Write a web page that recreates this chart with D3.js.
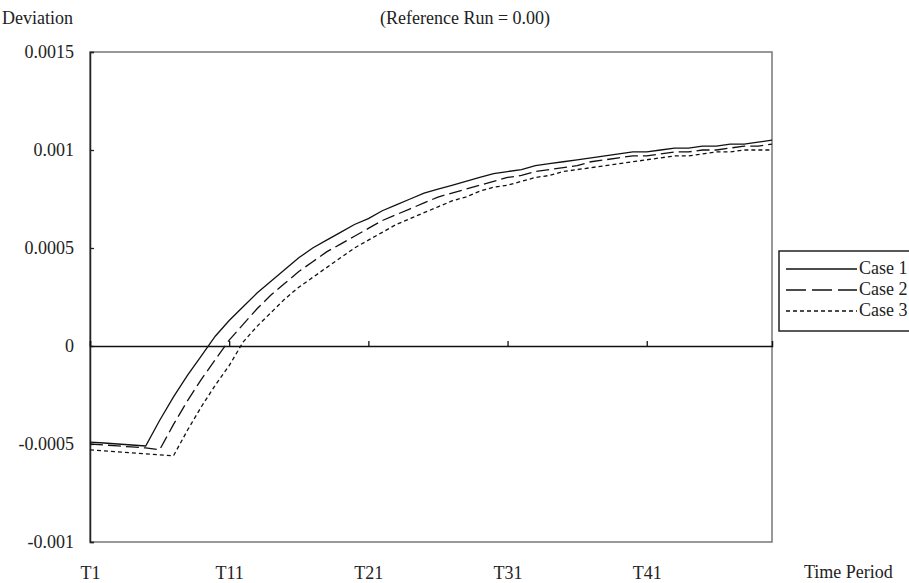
<!DOCTYPE html>
<html>
<head>
<meta charset="utf-8">
<script src="https://cdn.jsdelivr.net/npm/d3@7"></script>
<style>
  body { margin: 0; background: #fff; }
  svg { display: block; }
  svg text { font-family: "Liberation Serif", "Times New Roman", "DejaVu Serif", serif !important; fill: #222; }
</style>
</head>
<body>
<script>
// categories T1..T50
const periods = d3.range(1, 51).map((i) => "T" + i);

const case1 = [
  -0.00049, -0.000495, -0.0005, -0.000505, -0.00051, -0.00038, -0.00026, -0.00015, -0.00005, 0.00005,
  0.00013, 0.0002, 0.00027, 0.00033, 0.00039, 0.00045, 0.0005, 0.00054, 0.00058, 0.00062,
  0.00065, 0.00069, 0.00072, 0.00075, 0.00078, 0.0008, 0.00082, 0.00084, 0.00086, 0.00088,
  0.00089, 0.0009, 0.00092, 0.00093, 0.00094, 0.00095, 0.00096, 0.00097, 0.00098, 0.00099,
  0.00099, 0.001, 0.00101, 0.00101, 0.00102, 0.00102, 0.00103, 0.00103, 0.00104, 0.00105
];
const case2 = [
  -0.0005, -0.000505, -0.00051, -0.000515, -0.00052, -0.00053, -0.0004, -0.00028, -0.00017, -0.00007,
  0.00003, 0.00011, 0.00019, 0.00026, 0.00032, 0.00038, 0.00043, 0.00048, 0.00052, 0.00056,
  0.0006, 0.00064, 0.00067, 0.0007, 0.00073, 0.00076, 0.00078, 0.0008, 0.00082, 0.00084,
  0.00086, 0.00087, 0.00089, 0.0009, 0.00091, 0.00092, 0.00094, 0.00095, 0.00096, 0.00097,
  0.00097, 0.00098, 0.00099, 0.00099, 0.001, 0.001, 0.00101, 0.00102, 0.00102, 0.00103
];
const case3 = [
  -0.00053, -0.000535, -0.00054, -0.000545, -0.00055, -0.000555, -0.00056, -0.00043, -0.00031, -0.0002,
  -0.0001, 0.00002, 0.0001, 0.00017, 0.00024, 0.0003, 0.00035, 0.0004, 0.00045, 0.0005,
  0.00054, 0.00058, 0.00062, 0.00065, 0.00068, 0.00071, 0.00074, 0.00076, 0.00079, 0.00081,
  0.00082, 0.00084, 0.00086, 0.00087, 0.00089, 0.0009, 0.00091, 0.00092, 0.00093, 0.00094,
  0.00095, 0.00096, 0.00097, 0.00097, 0.00098, 0.00099, 0.00099, 0.001, 0.001, 0.001
];

const seriesNames = ["Case 1", "Case 2", "Case 3"];
const xTickLabels = ["T1", "T11", "T21", "T31", "T41"];
const yTicks = [-0.001, -0.0005, 0, 0.0005, 0.001, 0.0015];
const yTickLabels = ["-0.001", "-0.0005", "0", "0.0005", "0.001", "0.0015"];

const draw = () => {
  const width = 909;
  const height = 583;
  const left = 90, right = 772, top = 52, bottom = 542;
  const fontSize = 18;

  const dashes = ["none", "13,5", "4,3"];

  const x = d3.scalePoint().domain(periods).range([left, right]);
  const y = d3.scaleLinear().domain([-0.001, 0.0015]).range([bottom, top]);

  const svg = d3
    .create("svg")
    .attr("width", width)
    .attr("height", height)
    .attr("viewBox", [0, 0, width, height]);

  // plot area border
  svg.append("rect")
    .attr("x", left).attr("y", top)
    .attr("width", right - left).attr("height", bottom - top)
    .attr("fill", "none")
    .attr("stroke", "#777")
    .attr("stroke-width", 1.5);

  // y axis, ticks pointing inward
  const yAxis = svg.append("g")
    .attr("transform", `translate(${left},0)`)
    .call(d3.axisLeft(y)
      .tickValues(yTicks)
      .tickSize(-4)
      .tickPadding(16)
      .tickFormat((d, i) => yTickLabels[i]));
  yAxis.select(".domain").attr("stroke", "#222").attr("stroke-width", 1.5);
  yAxis.selectAll(".tick line").attr("stroke", "#222").attr("stroke-width", 1.3);
  yAxis.selectAll(".tick text").style("font-size", fontSize + "px");

  // category axis crossing at zero, ticks pointing up
  const xAxis = svg.append("g")
    .attr("transform", `translate(0,${y(0)})`)
    .call(d3.axisBottom(x)
      .tickValues(xTickLabels)
      .tickSize(-5)
      .tickFormat(""));
  xAxis.select(".domain").attr("stroke", "#111").attr("stroke-width", 1.5);
  xAxis.selectAll(".tick line").attr("stroke", "#111").attr("stroke-width", 1.3);

  // category labels at the low position
  const xLabels = svg.append("g")
    .attr("transform", `translate(0,${bottom + 21})`)
    .call(d3.axisBottom(x).tickValues(xTickLabels).tickSize(0));
  xLabels.select(".domain").remove();
  xLabels.selectAll(".tick text").style("font-size", fontSize + "px");

  // series lines
  const line = d3.line()
    .x((d, i) => x(periods[i]))
    .y((d) => y(d));

  svg.append("g")
    .selectAll("path")
    .data([case1, case2, case3])
    .join("path")
    .attr("d", line)
    .attr("fill", "none")
    .attr("stroke", "#111")
    .attr("stroke-width", 1.3)
    .attr("stroke-dasharray", (d, i) => dashes[i]);

  // titles
  svg.append("text")
    .attr("x", 2).attr("y", 24)
    .style("font-size", fontSize + "px")
    .text("Deviation");
  svg.append("text")
    .attr("x", 465).attr("y", 24)
    .attr("text-anchor", "middle")
    .style("font-size", fontSize + "px")
    .text("(Reference Run = 0.00)");
  svg.append("text")
    .attr("x", 804).attr("y", 578)
    .style("font-size", fontSize + "px")
    .text("Time Period");

  // legend
  const legend = svg.append("g").attr("transform", "translate(779,251)");
  legend.append("rect")
    .attr("width", 150).attr("height", 80)
    .attr("fill", "#fff")
    .attr("stroke", "#222")
    .attr("stroke-width", 1.5);
  const item = legend.selectAll("g")
    .data(seriesNames)
    .join("g")
    .attr("transform", (d, i) => `translate(0,${18 + i * 21})`);
  item.append("line")
    .attr("x1", 7).attr("x2", 78)
    .attr("stroke", "#111")
    .attr("stroke-width", 1.3)
    .attr("stroke-dasharray", (d, i) => i === 0 ? null : (i === 1 ? "20,6" : "4,3"));
  item.append("text")
    .attr("x", 80).attr("y", 5)
    .style("font-size", fontSize + "px")
    .text((d) => d);

  d3.select("body").append(() => svg.node());
};

draw();
</script>
</body>
</html>
